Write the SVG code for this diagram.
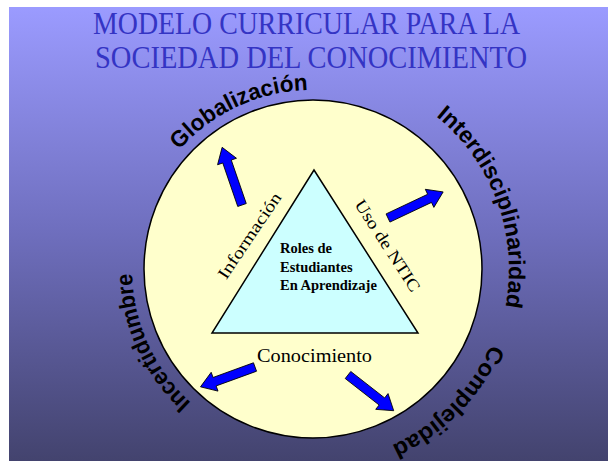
<svg xmlns="http://www.w3.org/2000/svg" width="608" height="461" viewBox="0 0 608 461">
  <defs>
    <linearGradient id="bg" x1="0" y1="0" x2="0" y2="1">
      <stop offset="0" stop-color="#9b9bff"/>
      <stop offset="0.5" stop-color="#6e6ebd"/>
      <stop offset="1" stop-color="#43436e"/>
    </linearGradient>
    <path id="arrowShape" d="M0,-4.5 L-15,-4.5 L-15,4.5 L0,4.5 Z"/>
    <path id="arcGlob" d="M134.7,284.6 A179,179 0 0 1 439.6,142.4"/>
    <path id="arcInter" d="M313,73 A196,196 0 0 1 439.0,419.1"/>
    <path id="arcComp" d="M487.2,185.9 A193,193 0 0 1 233.0,444.6"/>
    <path id="arcInc" d="M327.2,449.4 A181,181 0 0 1 186.1,139.9"/>
  </defs>
  <style>
    .title { font-family: "Liberation Serif", "Times New Roman", serif; font-size: 32px; fill: #3434c4; text-anchor: start; }
    .outer { font-family: "Liberation Sans", Arial, sans-serif; font-weight: bold; font-size: 23px; fill: #000; }
    .inner { font-family: "Liberation Serif", "Times New Roman", serif; fill: #000; }
    .arrow { fill: #0000ff; stroke: #000; stroke-width: 0.8; stroke-linejoin: miter; }
  </style>

  <rect x="0" y="0" width="608" height="461" fill="#ffffff"/>
  <rect x="9" y="7" width="599" height="454" fill="url(#bg)"/>

  <g id="title">
    <text class="title" x="93" y="34" textLength="427" lengthAdjust="spacingAndGlyphs">MODELO CURRICULAR PARA LA</text>
    <text class="title" x="95" y="68" textLength="432" lengthAdjust="spacingAndGlyphs">SOCIEDAD DEL CONOCIMIENTO</text>
  </g>

  <g id="circle">
    <circle cx="313" cy="269" r="169" fill="#ffffcc" stroke="#000" stroke-width="1.5"/>
  </g>

  <g id="triangle">
    <polygon points="314,170 212,333 418,333" fill="#ccffff" stroke="#000" stroke-width="1.5"/>
    <text class="inner" font-size="14.5" font-weight="bold">
      <tspan x="280" y="253">Roles de</tspan>
      <tspan x="280" y="272">Estudiantes</tspan>
      <tspan x="280" y="290">En Aprendizaje</tspan>
    </text>
  </g>

  <g id="informacion">
    <text class="inner" font-size="17" text-anchor="middle" transform="translate(250,236) rotate(-56)" y="5" textLength="100" lengthAdjust="spacingAndGlyphs">Información</text>
  </g>
  <g id="uso-ntic">
    <text class="inner" font-size="17" text-anchor="middle" transform="translate(387,246) rotate(57)" y="5" textLength="106" lengthAdjust="spacingAndGlyphs">Uso de NTIC</text>
  </g>
  <g id="conocimiento">
    <text class="inner" font-size="19" x="257" y="362" textLength="115" lengthAdjust="spacingAndGlyphs">Conocimiento</text>
  </g>

  <g id="globalizacion">
    <text class="outer"><textPath href="#arcGlob" startOffset="50%" text-anchor="middle" textLength="146" lengthAdjust="spacingAndGlyphs">Globalización</textPath></text>
  </g>
  <g id="interdisciplinaridad">
    <text class="outer"><textPath href="#arcInter" startOffset="50%" text-anchor="middle" textLength="213" lengthAdjust="spacingAndGlyphs">Interdisciplinaridad</textPath></text>
  </g>
  <g id="complejidad">
    <text class="outer"><textPath href="#arcComp" startOffset="50%" text-anchor="middle" textLength="145" lengthAdjust="spacingAndGlyphs">Complejidad</textPath></text>
  </g>
  <g id="incertidumbre">
    <text class="outer"><textPath href="#arcInc" startOffset="50%" text-anchor="middle" textLength="146" lengthAdjust="spacingAndGlyphs">Incertidumbre</textPath></text>
  </g>

  <g id="connectors">
    <path class="arrow" transform="translate(242,205) rotate(-109)" d="M0,-4.5 L46,-4.5 L46,-10 L61,0 L46,10 L46,4.5 L0,4.5 Z"/>
    <path class="arrow" transform="translate(388,218) rotate(-25.3)" d="M0,-4.5 L46,-4.5 L46,-10 L61,0 L46,10 L46,4.5 L0,4.5 Z"/>
    <path class="arrow" transform="translate(255,367) rotate(160)" d="M0,-4.5 L43,-4.5 L43,-10 L58,0 L43,10 L43,4.5 L0,4.5 Z"/>
    <path class="arrow" transform="translate(348,375) rotate(38)" d="M0,-4.5 L43,-4.5 L43,-10 L58,0 L43,10 L43,4.5 L0,4.5 Z"/>
  </g>
</svg>
